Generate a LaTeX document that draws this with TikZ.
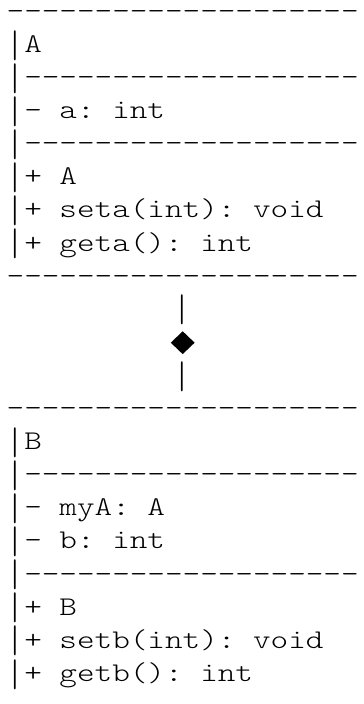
\documentclass[tikz,border=0pt]{standalone}
\usepackage{fontspec}
\usepackage{graphicx}
\setmonofont{lmmonolt10-regular.otf}
\usetikzlibrary{shapes.geometric}
\newsavebox\pipebox
% a taller pipe character, as the reference's monospace font draws it
\newcommand\vb{\begingroup\sbox\pipebox{|}%
  \raisebox{-8pt}[21pt][8pt]{\scalebox{1}[\fpeval{30/(\the\ht\pipebox+\the\dp\pipebox)}]{\raisebox{\dp\pipebox}{\usebox\pipebox}}}\endgroup}
\tikzset{
  txt/.style={inner sep=0pt, outer sep=0pt, text=black,
    font=\ttfamily\fontsize{27}{27}\selectfont, xscale=1.2416},
  ln/.style={txt, anchor=base west},
  bar/.style={txt, anchor=base},
  dia/.style={diamond, fill=black, draw=none, inner sep=0pt,
    minimum width=24pt, minimum height=23pt}
}
\begin{document}
\begin{tikzpicture}[x=1pt,y=-1pt]
\useasboundingbox (0,0) rectangle (364,704);
% class A
\node[ln] (a0) at (6.7,19.3)  {--------------------};
\node[ln] (a1) at (6.7,52.4)  {\vb A};
\node[ln] (a2) at (6.7,85.5)  {\vb -------------------};
\node[ln] (a3) at (6.7,118.6) {\vb - a: int};
\node[ln] (a4) at (6.7,151.7) {\vb -------------------};
\node[ln] (a5) at (6.7,184.8) {\vb + A};
\node[ln] (a6) at (6.7,217.9) {\vb + seta(int): void};
\node[ln] (a7) at (6.7,251.0) {\vb + geta(): int};
\node[ln] (a8) at (6.7,284.1) {--------------------};
% composition connector
\node[bar] (c1) at (182.7,317.2) {\vb};
\node[dia] (d)  at (182.7,342.7) {};
\node[bar] (c2) at (182.7,383.4) {\vb};
% class B
\node[ln] (b0) at (6.7,416.5) {--------------------};
\node[ln] (b1) at (6.7,449.6) {\vb B};
\node[ln] (b2) at (6.7,482.7) {\vb -------------------};
\node[ln] (b3) at (6.7,515.8) {\vb - myA: A};
\node[ln] (b4) at (6.7,548.9) {\vb - b: int};
\node[ln] (b5) at (6.7,582.0) {\vb -------------------};
\node[ln] (b6) at (6.7,615.1) {\vb + B};
\node[ln] (b7) at (6.7,648.2) {\vb + setb(int): void};
\node[ln] (b8) at (6.7,681.3) {\vb + getb(): int};
\end{tikzpicture}
\end{document}
